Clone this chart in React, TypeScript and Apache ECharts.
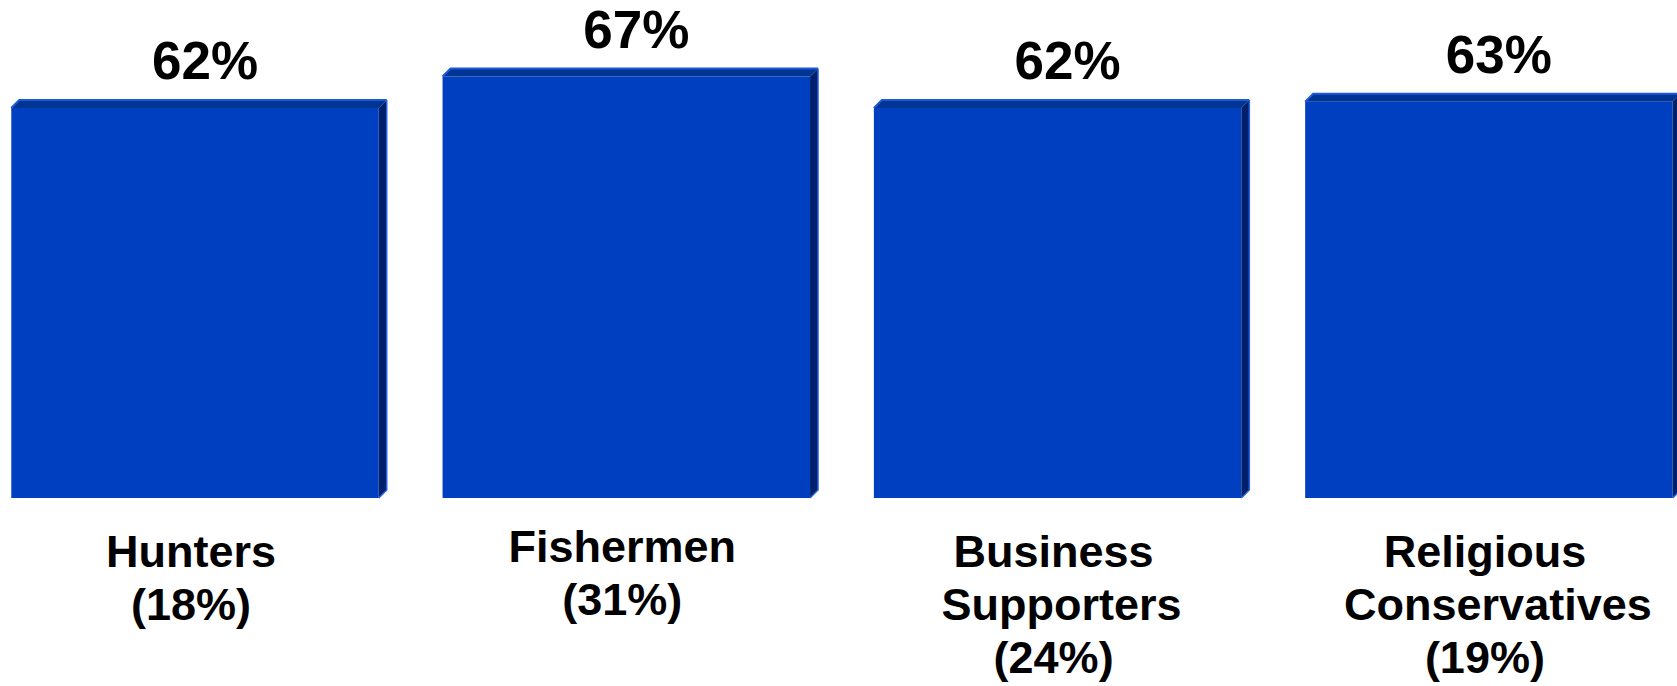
import React, { useEffect, useRef } from "react";
import * as echarts from "echarts";

const categories = ["Hunters", "Fishermen", "Business\nSupporters", "Religious\nConservatives"];
const shares = [18, 31, 24, 19];
const values = [62, 67, 62, 63];

const FONT = "'Liberation Sans', Arial, Helvetica, sans-serif";

export default function App() {
  const ref = useRef<HTMLDivElement>(null);

  useEffect(() => {
    if (!ref.current) return;
    const chart = echarts.init(ref.current, null, { renderer: "svg" });
    const depth = 8;
    const widthRatio = 0.852;

    const base = {
      fontFamily: FONT,
      fontWeight: "bold" as const,
      fontSize: 45,
      lineHeight: 53,
      color: "#000",
    };
    // per-line horizontal nudges (style only)
    const rich = {
      n: { ...base, padding: [0, 8, 0, 0] },
      w: { ...base, padding: [0, 0, 0, 8] },
      x: { ...base, padding: [0, 0, 0, 18] },
    };
    const lineStyle = (line: string) =>
      line === "Supporters" ? "w" : line === "Conservatives" ? "x" : "n";

    const axisData = categories.map((c, i) => ({
      value: `${c}\n(${shares[i]}%)`,
      textStyle: i === 1 ? { padding: [-5, 0, 0, 0] } : {},
    }));

    chart.setOption({
      animation: false,
      grid: {
        left: -20.65,
        width: 1725.2,
        top: -5.2,
        bottom: 188,
        containLabel: false,
        outerBoundsMode: "none",
      },
      xAxis: {
        type: "category",
        data: axisData,
        axisLine: { show: false },
        axisTick: { show: false },
        splitLine: { show: false },
        axisLabel: {
          interval: 0,
          margin: 27,
          ...base,
          verticalAlign: "top",
          formatter: (v: string) =>
            v
              .split("\n")
              .map((line) => `{${lineStyle(line)}|${line}}`)
              .join("\n"),
          rich,
        },
      },
      yAxis: {
        type: "value",
        min: 0,
        max: 80,
        show: false,
        splitLine: { show: false },
      },
      series: [
        {
          type: "bar",
          data: values,
          barWidth: widthRatio * 100 + "%",
          itemStyle: { color: "#0040C0" },
          label: {
            show: true,
            position: "top",
            distance: 21,
            offset: [10, 0],
            formatter: "{c}%",
            fontFamily: FONT,
            fontWeight: "bold",
            fontSize: 53,
            color: "#000",
          },
          z: 2,
        },
        {
          type: "custom",
          data: values.map((v, i) => [i, v]),
          encode: { x: 0, y: 1 },
          z: 3,
          silent: true,
          renderItem: (params: any, api: any) => {
            const idx = api.value(0);
            const val = api.value(1);
            const top = api.coord([idx, val]);
            const bot = api.coord([idx, 0]);
            const w = api.size([1, 0])[0] * widthRatio;
            const x0 = top[0] - w / 2;
            const x1 = top[0] + w / 2;
            const yT = top[1];
            const yB = bot[1];
            const d = depth;
            return {
              type: "group",
              children: [
                {
                  type: "polygon",
                  shape: { points: [[x0, yT], [x0 + d, yT - d], [x1 + d, yT - d], [x1, yT]] },
                  style: { fill: "#003594" },
                },
                {
                  type: "polyline",
                  shape: { points: [[x0, yT], [x0 + d, yT - d], [x1 + d, yT - d]] },
                  style: { stroke: "#1E58DA", lineWidth: 2, fill: "none" },
                },
                {
                  type: "polygon",
                  shape: { points: [[x1, yT], [x1 + d, yT - d], [x1 + d, yB - d], [x1, yB]] },
                  style: { fill: "#00206C" },
                },
                {
                  type: "polyline",
                  shape: { points: [[x1 + d, yT - d], [x1 + d, yB - d], [x1, yB]] },
                  style: { stroke: "#2862E6", lineWidth: 1.5, fill: "none" },
                },
              ],
            };
          },
        },
      ],
    });
    return () => chart.dispose();
  }, []);

  return (
    <div
      ref={ref}
      style={{ position: "fixed", left: 0, top: 0, width: 1677, height: 686, background: "#fff" }}
    />
  );
}
